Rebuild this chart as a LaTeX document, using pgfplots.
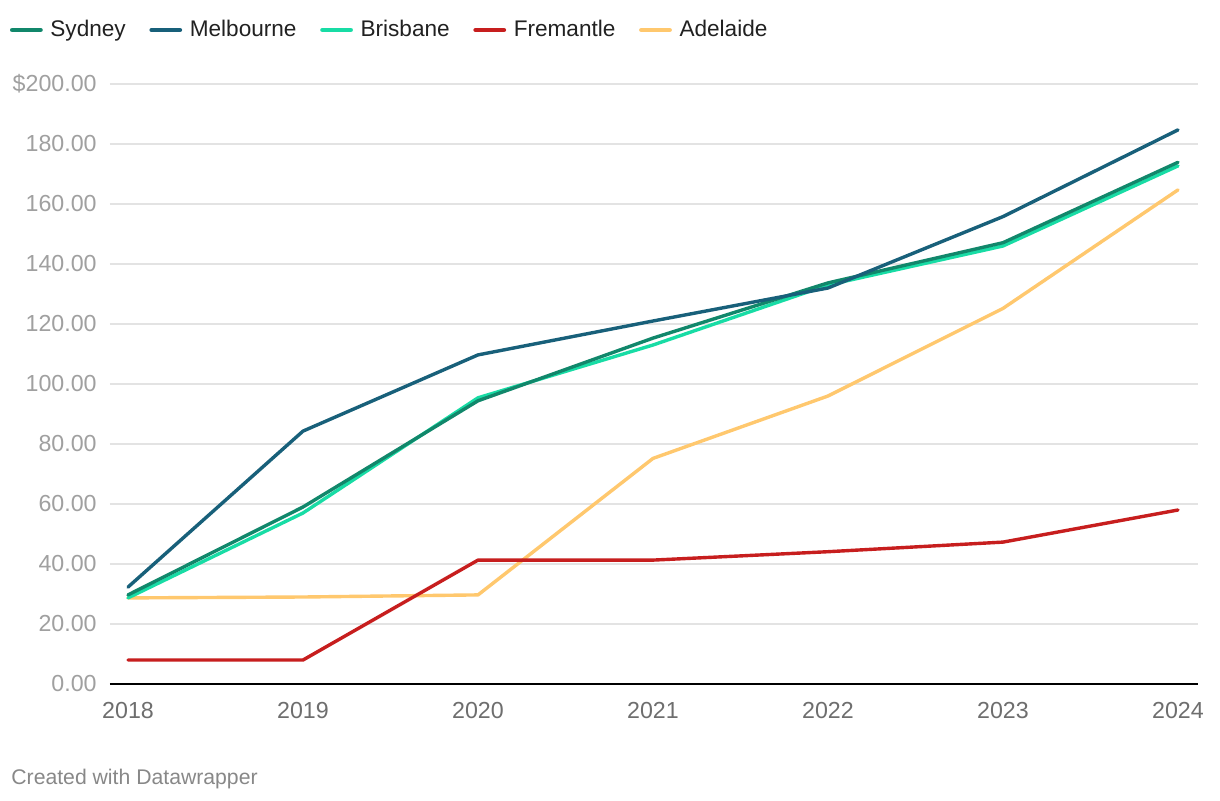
\documentclass[border=0pt]{standalone}
\usepackage{pgfplots}
\pgfplotsset{compat=1.18}
\usepackage{fontspec}
\setmainfont{Liberation Sans}
\definecolor{syd}{HTML}{11876B}
\definecolor{mel}{HTML}{18607A}
\definecolor{bri}{HTML}{18DCA5}
\definecolor{fre}{HTML}{C71E1E}
\definecolor{ade}{HTML}{FFC86E}
\definecolor{gridc}{HTML}{E3E3E3}
\definecolor{ylab}{HTML}{A0A0A0}
\definecolor{xlab}{HTML}{6E6E6E}
\definecolor{foot}{HTML}{888888}
\begin{document}
\begin{tikzpicture}
\useasboundingbox[fill=white] (0,0) rectangle (610pt,400pt);
\begin{axis}[
  at={(55pt,58pt)}, anchor=south west,
  scale only axis, width=544pt, height=300pt,
  xmin=2017.8971, xmax=2024.1143, ymin=0, ymax=200,
  axis lines*=left,
  x axis line style={black, line width=1pt},
  y axis line style={draw=none},
  major tick length=0pt,
  xtick={2018,2019,2020,2021,2022,2023,2024},
  xticklabels={2018,2019,2020,2021,2022,2023,2024},
  ytick={0,20,40,60,80,100,120,140,160,180,200},
  yticklabels={0.00,20.00,40.00,60.00,80.00,100.00,120.00,140.00,160.00,180.00,\$200.00},
  ymajorgrids, grid style={gridc, line width=0.6pt},
  xticklabel style={font=\fontsize{11.6pt}{13pt}\selectfont, text=xlab, inner sep=0pt, anchor=north, yshift=-9pt},
  yticklabel style={font=\fontsize{11.6pt}{13pt}\selectfont, text=ylab, inner sep=0pt, anchor=east, xshift=-6.5pt},
  legend columns=5,
  legend style={at={(-0.0919,1.09)}, anchor=west, draw=none, fill=none, inner sep=0pt, outer sep=0pt,
    font=\fontsize{11.3pt}{13pt}\selectfont, text=black!87,
    nodes={inner sep=0pt},
    /tikz/every odd column/.style={column sep=3.8pt},
    /tikz/every even column/.style={column sep=11.8pt}},
  legend image code/.code={\draw[#1, line width=2.4pt, line cap=round] (1pt,0) -- (15pt,0);},
  every axis plot/.append style={line width=1.7pt, line join=round, line cap=round},
  clip=false,
]
\addlegendimage{syd}
\addlegendentry{Sydney}
\addlegendimage{mel}
\addlegendentry{Melbourne}
\addlegendimage{bri}
\addlegendentry{Brisbane}
\addlegendimage{fre}
\addlegendentry{Fremantle}
\addlegendimage{ade}
\addlegendentry{Adelaide}
% Adelaide
\addplot[ade, forget plot] coordinates {(2018,28.7) (2019,29.0) (2020,29.7) (2021,75.2) (2022,96.0) (2023,125.2) (2024,164.7)};
% Brisbane
\addplot[bri, forget plot] coordinates {(2018,28.7) (2019,57.0) (2020,95.4) (2021,113.0) (2022,133.0) (2023,146.0) (2024,172.7)};
% Sydney
\addplot[syd, forget plot] coordinates {(2018,29.7) (2019,59.0) (2020,94.4) (2021,115.3) (2022,133.7) (2023,147.1) (2024,173.9)};
% Melbourne
\addplot[mel, forget plot] coordinates {(2018,32.3) (2019,84.3) (2020,109.7) (2021,121.0) (2022,132.0) (2023,155.8) (2024,184.7)};
% Fremantle
\addplot[fre, forget plot] coordinates {(2018,8.0) (2019,8.0) (2020,41.3) (2021,41.3) (2022,44.1) (2023,47.3) (2024,58.0)};
\end{axis}
\node[anchor=base west, inner sep=0pt, text=foot, font=\fontsize{10.6pt}{12pt}\selectfont] at (5.5pt,8pt) {Created with Datawrapper};
\end{tikzpicture}
\end{document}
